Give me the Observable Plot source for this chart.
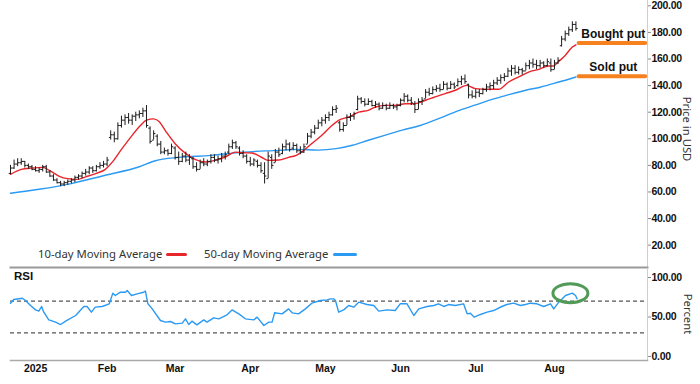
<!DOCTYPE html>
<html><head><meta charset="utf-8">
<script src="https://cdn.jsdelivr.net/npm/d3@7"></script>
<script src="https://cdn.jsdelivr.net/npm/@observablehq/plot@0.6"></script>
<style>
html,body{margin:0;padding:0;background:#fff;}
#wrap{position:relative;width:700px;height:384px;overflow:hidden;font-family:"Noto Sans",sans-serif;}
#wrap svg{display:block;}
.lbl{position:absolute;white-space:nowrap;color:#333;font-size:11.3px;line-height:1;}
.sw{position:absolute;height:3.5px;border-radius:2px;}
.rot{transform:translate(-50%,-50%) rotate(90deg);transform-origin:center;}
#wrap [aria-label="y-axis tick label"] text{letter-spacing:-0.3px;}
</style></head><body><div id="wrap"></div>
<script>
// ---- data: one value per trading day (index 0 = mid-Dec 2024) ----
const opens = [74,78,81,82,83,80,79,77,76,77, 79,75,72,69,67,66,67,68,69,71, 72,74,75,78,76,79,80,81,101,103,
 100,110,114,116,114,117,118,119,121,108, 99,102,96,90,91,89,93,86,83,87, 84,85,79,77,82,81,83,86,84,85,
 87,90,94,97,93,89,87,83,81,83, 80,74,70,86,82,90,89,94,96,93, 95,91,90,96,102,105,108,112,114,116,
 118,122,112,107,110,116,117,122,130,128, 126,128,125,126,123,125,123,125,124,125, 129,132,129,126,122,128,130,135,134,137,
 138,137,141,138,141,140,143,145,141,133, 132,135,134,137,139,140,142,144,146,147, 151,153,150,152,151,155,157,156,155,157,
 155,157,152,157,170,175,179,182,186];
const highs = [80,84,85,85,83,81,80,79,78,80, 80,76,73,70,68,68,69,70,72,73, 75,77,79,79,80,82,83,86,106,105,
 112,117,118,119,118,120,121,123,125,109, 106,103,98,93,92,96,94,90,89,90, 88,86,82,84,85,84,88,88,87,89,
 90,96,99,98,94,91,88,86,85,84, 82,82,90,88,92,93,96,99,97,97, 96,94,96,104,107,110,114,116,118,120,
 124,125,113,112,118,119,120,132,131,130, 130,129,128,127,127,126,127,126,126,130, 134,133,131,128,130,131,137,138,139,140,
 141,143,142,143,142,145,147,148,141,136, 137,137,138,141,142,144,146,148,149,153, 155,155,154,153,157,159,160,159,159,158,
 160,160,159,161,177,181,184,188,188];
const lows = [73,77,79,80,78,77,76,75,74,75, 74,71,68,66,64,64,65,66,67,69, 70,72,73,74,75,77,78,79,99,97,
 99,108,110,111,110,113,115,116,108,96, 99,94,88,88,87,88,84,80,82,82, 80,77,75,77,79,79,81,82,81,82,
 84,88,92,92,87,85,81,79,79,78, 74,66,70,77,82,86,88,91,90,91, 89,88,89,96,100,103,107,109,111,113,
 117,119,105,105,110,113,114,121,126,124, 125,124,123,121,122,121,122,122,121,124, 127,127,125,119,122,125,130,132,133,135,
 135,137,136,137,137,139,140,141,130,130, 130,131,133,135,136,137,140,141,143,146, 147,148,148,148,151,152,153,152,153,153,
 154,150,152,156,169,173,177,180,181];
const closes = [78,81,82,83,80,79,77,76,77,79, 75,72,69,67,66,67,68,69,71,72, 74,75,78,76,79,80,81,84,103,100,
 110,114,116,114,117,118,119,121,110,98, 104,96,90,91,89,94,86,83,87,84, 86,79,77,82,81,83,86,84,85,87,
 88,94,97,94,89,87,83,81,84,80, 76,72,87,80,90,88,94,96,92,95, 91,90,94,102,105,108,112,114,116,118,
 122,123,107,110,116,117,119,130,128,126, 128,125,126,123,125,123,125,124,125,129, 132,129,127,122,128,129,135,134,137,138,
 137,141,138,141,139,143,145,143,133,132, 135,134,137,139,140,142,144,146,147,151, 153,150,152,151,155,157,156,155,157,155,
 158,152,157,159,175,179,182,186,183];

// moving averages: [trading-day index, value]
const ma10Idx = [0,3,6,9,11,13.5,16,18.5,21,24,26.5,28.5,31,34,36.3,38,40,41.5,43.3,46,49,51.7,54.5,57,60,62.8,65,67.5,70,72,75,77.7,80,82,84.2,87,89.8,91.7,94.5,97.3,100,102,104.7,107.5,110.3,113,116,118.7,121.5,124.3,127.5,130,133,136.4,139.2,142,144.8,147.6,150.3,151.7,153,155,157,158];
const ma10Val = [73.3,77,78,78.5,76,72,70,69.5,71.4,74,77,82.6,92,102.6,110,114,115,113,106,96.3,88.8,84.3,82.5,83.8,86.3,90,89.5,89.3,86.3,83.8,84,86,87.7,91.4,96.4,102.6,110,113.9,116.4,120,121.4,123.9,125.1,125.1,126.4,126.4,129,131.5,134,136.5,140.2,137.7,137.2,137.2,142.7,146.5,150.2,152.2,154.7,154.7,157.7,162.7,169,170.7];
const ma50Idx = [0,8,17,26.5,35.8,40.5,47,56,65,75,80,86,91,95.5,100,105,109.5,114.5,120,125,130,135,139,144,148,153,158];
const ma50Val = [59,62,66.3,72.6,78.8,83.5,86,87.5,90,91.3,92,91.5,92.6,95.1,98.9,103,106.5,110,115.5,121,125.5,130,133,136.5,138.8,142.5,146.5];

// RSI: [trading-day index, value]
const rsiIdx = [0,0.9,3.3,4.2,5.6,7,7.9,8.7,9.3,10.7,12.6,14,15.4,18.2,20.5,21.4,22.6,23.7,25.6,27.6,28.6,29.3,30.7,32.1,32.6,33.8,35.4,37.2,37.7,38.4,39.6,41.9,43.3,44.7,46.1,48,48.9,49.8,50.7,52.1,54,54.9,56.8,58.2,60.5,61.9,63.8,65.6,68,68.9,70.8,72.2,73.1,73.8,75.9,77.7,78.7,80.5,82.4,84.2,86.6,88.5,89.4,90.3,90.8,91.7,93.1,94.5,95.9,97.3,99.6,101.5,102.9,105.2,107.5,108.9,110.8,112.7,114.1,116.4,118.3,119.6,121.1,122.4,124.3,126.6,127.6,128.5,129.6,131.3,133.2,135,137.3,138.7,140.6,142.5,143.9,145.3,147.1,149,150.9,151.8,153.2,155.1,157,157.9,158.3];
const rsiVal = [67.5,72.2,73.8,70.9,64.6,59,57.4,63.3,56.1,46.4,43.5,40.5,44.7,51.9,63.3,63.3,56.1,62.5,63.3,66.7,80.2,77.2,81.4,81.4,83.5,77.2,79.3,81.4,82.7,66.7,60.3,45.6,43.5,44.3,41.3,42.2,47.7,40.5,44.7,40.1,46.4,43.5,48.9,47.7,52.7,59,54,47.7,46.4,49.8,39.2,43.5,43.5,55.3,54,60.3,55.3,54,60.3,67.5,70.9,71.7,73,73,70.9,56.1,59,64.6,62.5,68.8,65.8,64.6,57.4,59,58.2,66.7,66.7,51.9,60.3,63.3,64.6,66.7,63.3,65.8,64.6,66.7,54,54.8,49.8,53.2,56.1,58.2,63.3,65.8,67.5,64.6,65.8,67.5,66.7,63.3,66.7,60.3,68.8,77.2,80.2,77.2,73];

// axes / annotations
const monthTickIdx = [7,27,46,67,88,109,130,152];
const monthTickLabels = ["2025","Feb","Mar","Apr","May","Jun","Jul","Aug"];
const priceTicks = [20,40,60,80,100,120,140,160,180,200];
const rsiTicks = [0,50,100];
const rsiLevels = [70,30];
const putLabels = ["Bought put","Sold put"];
const putStrikes = [172,147];
const highlightIdx = 156.6, highlightRsi = 79.5;

// ---- build ----
const bars = closes.map((c,i)=>({i, o:opens[i], h:highs[i], l:lows[i], c}));
const ma10 = ma10Idx.map((x,k)=>({x, y:ma10Val[k]}));
const ma50 = ma50Idx.map((x,k)=>({x, y:ma50Val[k]}));
const rsi = rsiIdx.map((x,k)=>({x, y:rsiVal[k]}));
const puts = putLabels.map((label,k)=>({label, y:putStrikes[k]}));
const lastIdx = closes.length - 1;
const xDomain = [0, 178];
const RED = "#e8252b", BLUE = "#2b9af3", DARK = "#1c1c1c";
const style = {fontFamily:"'Liberation Sans', Arial, sans-serif", fontSize:"10.5px", color:"#111", background:"transparent", overflow:"visible"};

const pricePlot = Plot.plot({
  width:700, height:268, marginLeft:10, marginRight:53, marginTop:0, marginBottom:1,
  style,
  x:{domain:xDomain, axis:null},
  y:{domain:[3.2,204], axis:null},
  marks:[
    Plot.frame({anchor:"right", stroke:"#cfcfcf"}),
    Plot.frame({anchor:"bottom", stroke:"#9a9a9a", strokeWidth:2}),
    Plot.axisY(priceTicks, {anchor:"right", tickFormat:d=>d.toFixed(2), tickSize:3, tickPadding:1, label:null, fontWeight:"bold", stroke:"#888"}),
    Plot.line(ma50, {x:"x", y:"y", stroke:BLUE, strokeWidth:1.4, curve:"monotone-x"}),
    Plot.line(ma10, {x:"x", y:"y", stroke:RED, strokeWidth:1.4, curve:"monotone-x"}),
    Plot.ruleX(bars, {x:"i", y1:"l", y2:"h", stroke:DARK, strokeWidth:1}),
    Plot.link(bars, {x1:d=>d.i-0.5, x2:"i", y1:"o", y2:"o", stroke:DARK, strokeWidth:1}),
    Plot.link(bars, {x1:"i", x2:d=>d.i+0.5, y1:"c", y2:"c", stroke:DARK, strokeWidth:1}),
    Plot.ruleY(puts, {y:"y", x1:()=>lastIdx+0.9, x2:()=>xDomain[1]-0.5, stroke:"#f5821f", strokeWidth:4, strokeLinecap:"round"}),
    Plot.text(puts, {x:()=>(lastIdx+0.9+xDomain[1])/2, y:"y", text:"label", dy:-9, fontWeight:"bold", fontSize:12, fill:"#111"})
  ]
});

const rsiPlot = Plot.plot({
  width:700, height:116, marginLeft:10, marginRight:53, marginTop:0, marginBottom:24,
  style,
  x:{domain:xDomain, axis:null},
  y:{domain:[-5.06,111.4], axis:null},
  marks:[
    Plot.frame({anchor:"right", stroke:"#cfcfcf"}),
    Plot.frame({anchor:"bottom", stroke:"#aaaaaa", strokeWidth:1.5}),
    Plot.axisY(rsiTicks, {anchor:"right", tickFormat:d=>d.toFixed(2), tickSize:3, tickPadding:1, label:null, fontWeight:"bold", stroke:"#888"}),
    Plot.axisX(monthTickIdx, {anchor:"bottom", tickFormat:d=>monthTickLabels[monthTickIdx.indexOf(d)], tickSize:0, tickPadding:4, label:null, fontWeight:"bold"}),
    Plot.ruleY(rsiLevels, {stroke:"#555", strokeDasharray:"4,3", strokeWidth:1.3}),
    Plot.line(rsi, {x:"x", y:"y", stroke:BLUE, strokeWidth:1.4})
  ]
});

const wrap = document.getElementById("wrap");
wrap.appendChild(pricePlot);
wrap.appendChild(rsiPlot);

// highlight ellipse on RSI peak
{
  const sx = rsiPlot.scale("x"), sy = rsiPlot.scale("y");
  d3.select(rsiPlot).append("ellipse")
    .attr("cx", sx.apply(highlightIdx)).attr("cy", sy.apply(highlightRsi))
    .attr("rx", 17.5).attr("ry", 9.5)
    .attr("fill","none").attr("stroke","#529a57").attr("stroke-width",3);
}

// html labels
function addLabel(text, css, cls="lbl"){ const d=document.createElement("div"); d.className=cls; d.textContent=text; Object.assign(d.style, css); wrap.appendChild(d); return d; }
addLabel("10-day Moving Average", {left:"38px", top:"248px"});
addLabel("", {left:"166px", top:"252.5px", width:"21px", background:RED}, "sw");
addLabel("50-day Moving Average", {left:"204px", top:"248px"});
addLabel("", {left:"333px", top:"252.5px", width:"24px", background:BLUE}, "sw");
addLabel("RSI", {left:"14px", top:"271px", fontFamily:"'Liberation Sans', Arial, sans-serif", fontWeight:"bold", fontSize:"11.5px", color:"#111"});
addLabel("Price in USD", {left:"687px", top:"129px"}, "lbl rot");
addLabel("Percent", {left:"688px", top:"314px"}, "lbl rot");
</script></body></html>
